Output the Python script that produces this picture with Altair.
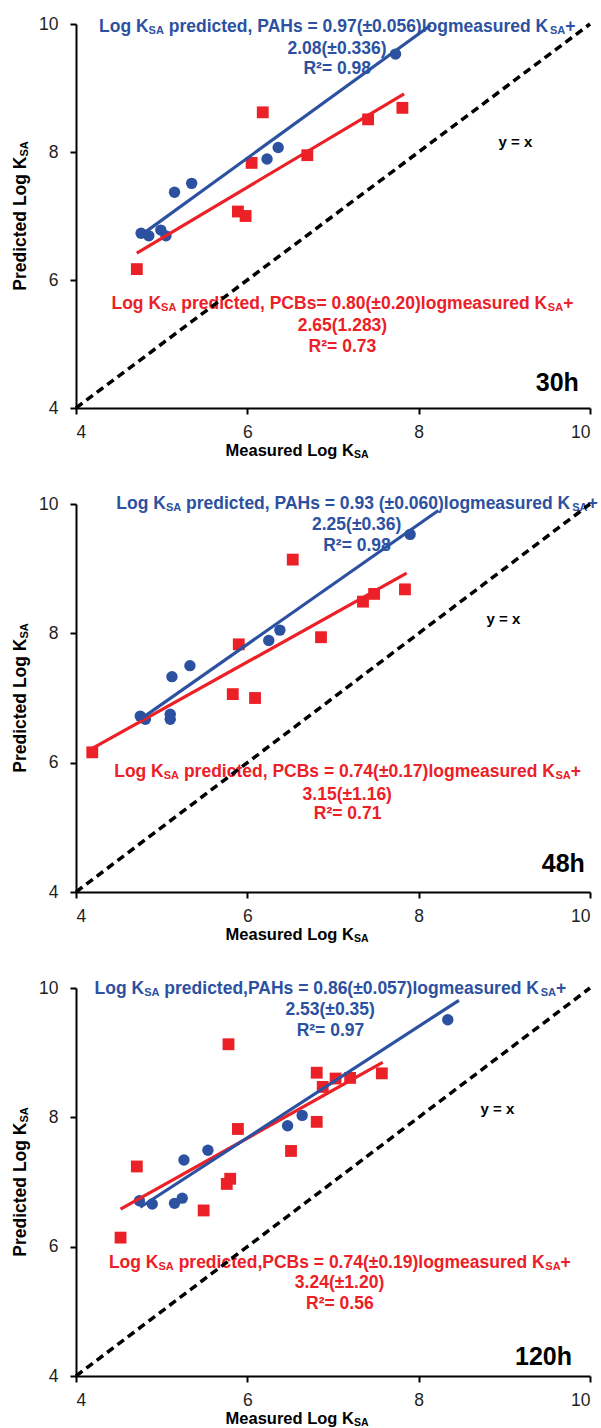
import altair as alt
import pandas as pd

BLUE = "#2C51A0"
RED = "#EC2027"
FONT = "Liberation Sans"

TICKS = [4, 6, 8, 10]
DOMAIN = [4, 10]
IDENTITY = [4, 10]

# ---------------- 30 h ----------------
PAH_30_X = [4.76, 4.85, 4.99, 5.05, 5.15, 5.35, 6.23, 6.36, 7.73]
PAH_30_Y = [6.73, 6.69, 6.78, 6.69, 7.37, 7.51, 7.89, 8.07, 9.53]
PCB_30_X = [4.71, 5.89, 5.98, 6.05, 6.18, 6.70, 7.41, 7.81]
PCB_30_Y = [6.17, 7.07, 7.00, 7.83, 8.62, 7.95, 8.51, 8.69]
FIT_PAH_30_X = [4.78, 8.14]
FIT_PAH_30_Y = [6.72, 9.98]
FIT_PCB_30_X = [4.71, 7.83]
FIT_PCB_30_Y = [6.42, 8.91]

# ---------------- 48 h ----------------
PAH_48_X = [4.75, 4.81, 5.10, 5.10, 5.12, 5.33, 6.25, 6.38, 7.90]
PAH_48_Y = [6.72, 6.67, 6.75, 6.67, 7.33, 7.50, 7.89, 8.05, 9.53]
PCB_48_X = [4.19, 5.83, 6.09, 5.90, 6.53, 6.86, 7.35, 7.48, 7.84]
PCB_48_Y = [6.16, 7.06, 7.00, 7.83, 9.14, 7.94, 8.49, 8.61, 8.68]
FIT_PAH_48_X = [4.75, 8.23]
FIT_PAH_48_Y = [6.67, 9.90]
FIT_PCB_48_X = [4.19, 7.86]
FIT_PCB_48_Y = [6.22, 8.93]

# ---------------- 120 h ----------------
PAH_120_X = [4.74, 4.89, 5.15, 5.24, 5.26, 5.54, 6.47, 6.64, 8.34]
PAH_120_Y = [6.71, 6.66, 6.67, 6.75, 7.34, 7.49, 7.87, 8.03, 9.51]
PCB_120_X = [4.52, 4.71, 5.49, 5.76, 5.80, 5.78, 5.89, 6.51, 6.81, 6.81, 6.88, 7.03, 7.20, 7.57]
PCB_120_Y = [6.14, 7.24, 6.56, 6.97, 7.05, 9.13, 7.82, 7.48, 7.93, 8.69, 8.47, 8.60, 8.61, 8.68]
FIT_PAH_120_X = [4.75, 8.47]
FIT_PAH_120_Y = [6.61, 9.81]
FIT_PCB_120_X = [4.52, 7.58]
FIT_PCB_120_Y = [6.58, 8.85]

# ---------------- texts ----------------
BLUE_EQ = [
    " predicted, PAHs = 0.97(\u00b10.056)logmeasured K",
    " predicted, PAHs = 0.93 (\u00b10.060)logmeasured K",
    " predicted,PAHs = 0.86(\u00b10.057)logmeasured K",
]
BLUE_L2 = ["2.08(\u00b10.336)", "2.25(\u00b10.36)", "2.53(\u00b10.35)"]
BLUE_L3 = ["R\u00b2= 0.98", "R\u00b2= 0.98", "R\u00b2= 0.97"]
RED_EQ = [
    " predicted, PCBs= 0.80(\u00b10.20)logmeasured K",
    " predicted, PCBs = 0.74(\u00b10.17)logmeasured K",
    " predicted,PCBs = 0.74(\u00b10.19)logmeasured K",
]
RED_L2 = ["2.65(1.283)", "3.15(\u00b11.16)", "3.24(\u00b11.20)"]
RED_L3 = ["R\u00b2= 0.73", "R\u00b2= 0.71", "R\u00b2= 0.56"]
TIME_LABELS = ["30h", "48h", "120h"]

# text anchor positions (data units)
BLUE_TXT_X = [7.05, 7.28, 6.97]
BLUE_TXT_Y = [[9.97, 9.63, 9.31], [10.02, 9.69, 9.37], [10.0, 9.68, 9.35]]
RED_TXT_X = [7.11, 7.17, 7.08]
RED_TXT_Y = [[5.65, 5.30, 4.98], [5.87, 5.52, 5.22], [5.77, 5.45, 5.14]]
YX_POS = [(9.13, 8.16), (8.99, 8.23), (8.92, 8.13)]
TIME_POS = [(9.87, 4.39), (9.94, 4.43), (9.79, 4.30)]

HEIGHTS = [384, 388, 388]
WIDTH = 514

BOLD_W = {' ': 278, '(': 333, ')': 333, '+': 584, ',': 278, '.': 278, '=': 584,
          '\u00b1': 584, '\u00b2': 333,
          'A': 722, 'B': 722, 'C': 722, 'H': 722, 'K': 722, 'L': 611, 'M': 833,
          'P': 667, 'R': 722, 'S': 667,
          'a': 556, 'c': 556, 'd': 611, 'e': 556, 'g': 611, 'h': 611, 'i': 278,
          'l': 278, 'm': 889, 'o': 611, 'p': 611, 'r': 389, 's': 556, 't': 333,
          'u': 611, 'x': 556, 'y': 556}
for _d in "0123456789":
    BOLD_W[_d] = 556


def text_width(s, size):
    return sum(BOLD_W.get(c, 556) for c in s) * size / 1000.0


XS = alt.Scale(domain=DOMAIN, nice=False, zero=False)
YS = alt.Scale(domain=DOMAIN, nice=False, zero=False)
XAX = alt.Axis(values=TICKS, title=None, grid=False, labelPadding=9, format="d")
YAX = alt.Axis(values=TICKS, title=None, grid=False, labelPadding=12, format="d")


def enc_xy(ch):
    return ch.encode(x=alt.X("x:Q", scale=XS, axis=XAX),
                     y=alt.Y("y:Q", scale=YS, axis=YAX))


def rich(anchor, segs, size, sub_size, color, angle=0, pixel=False):
    widths = [text_width(t, sub_size if sub else size) for t, sub in segs]
    cur = -sum(widths) / 2.0
    base_dy = 0.358 * size
    layers = []
    for (t, sub), w in zip(segs, widths):
        fs = sub_size if sub else size
        stripped = t.lstrip(" ")
        lead = text_width(t[:len(t) - len(stripped)], fs)
        m = alt.Chart(pd.DataFrame({"x": [anchor[0]], "y": [anchor[1]], "t": [stripped]})).mark_text(
            align="left", baseline="alphabetic", dx=cur + lead,
            dy=base_dy + (1.9 if sub else 0.0),
            font=FONT, fontWeight="bold", fontSize=fs,
            color=color, angle=angle)
        if pixel:
            m = m.encode(x=alt.value(anchor[0]), y=alt.value(anchor[1]), text="t:N")
        else:
            m = enc_xy(m).encode(text="t:N")
        layers.append(m)
        cur += w
    return layers


def panel(i, pah_x, pah_y, pcb_x, pcb_y, fpah_x, fpah_y, fpcb_x, fpcb_y):
    h = HEIGHTS[i]
    layers = []
    bx = BLUE_TXT_X[i]
    by = BLUE_TXT_Y[i]
    layers += rich((bx, by[0]), [("Log K", False), ("SA", True), (BLUE_EQ[i], False),
                                 ("SA", True), ("+", False)], 17.5, 11, BLUE)
    layers += rich((bx, by[1]), [(BLUE_L2[i], False)], 17.5, 11, BLUE)
    layers += rich((bx, by[2]), [(BLUE_L3[i], False)], 17.5, 11, BLUE)
    rx = RED_TXT_X[i]
    ry = RED_TXT_Y[i]
    layers += rich((rx, ry[0]), [("Log K", False), ("SA", True), (RED_EQ[i], False),
                                 ("SA", True), ("+", False)], 17.5, 11, RED)
    layers += rich((rx, ry[1]), [(RED_L2[i], False)], 17.5, 11, RED)
    layers += rich((rx, ry[2]), [(RED_L3[i], False)], 17.5, 11, RED)
    layers += rich(YX_POS[i], [("y = x", False)], 15, 10, "black")
    tdf = pd.DataFrame({"x": [TIME_POS[i][0]], "y": [TIME_POS[i][1]], "t": [TIME_LABELS[i]]})
    layers.append(enc_xy(alt.Chart(tdf).mark_text(
        align="right", baseline="middle", font=FONT, fontWeight="bold",
        fontSize=25, color="black")).encode(text="t:N"))
    layers += rich((221, h + 42), [("Measured Log K", False), ("SA", True)], 16.5, 10.5,
                   "black", pixel=True)
    layers += rich((-56, h / 2.0), [("Predicted Log K", False), ("SA", True)], 17.5, 11,
                   "black", angle=270, pixel=True)
    layers.append(enc_xy(alt.Chart(pd.DataFrame({"x": IDENTITY, "y": IDENTITY})).mark_line(
        color="black", strokeWidth=3.5, strokeDash=[8, 5])))
    layers.append(enc_xy(alt.Chart(pd.DataFrame({"x": pcb_x, "y": pcb_y})).mark_point(
        shape="square", filled=True, size=140, color=RED, opacity=1)))
    layers.append(enc_xy(alt.Chart(pd.DataFrame({"x": pah_x, "y": pah_y})).mark_circle(
        size=130, color=BLUE, opacity=1)))
    layers.append(enc_xy(alt.Chart(pd.DataFrame({"x": fpcb_x, "y": fpcb_y})).mark_line(
        color=RED, strokeWidth=3.2)))
    layers.append(enc_xy(alt.Chart(pd.DataFrame({"x": fpah_x, "y": fpah_y})).mark_line(
        color=BLUE, strokeWidth=3.2)))
    return alt.layer(*layers).properties(width=WIDTH, height=h)


p1 = panel(0, PAH_30_X, PAH_30_Y, PCB_30_X, PCB_30_Y,
           FIT_PAH_30_X, FIT_PAH_30_Y, FIT_PCB_30_X, FIT_PCB_30_Y)
p2 = panel(1, PAH_48_X, PAH_48_Y, PCB_48_X, PCB_48_Y,
           FIT_PAH_48_X, FIT_PAH_48_Y, FIT_PCB_48_X, FIT_PCB_48_Y)
p3 = panel(2, PAH_120_X, PAH_120_Y, PCB_120_X, PCB_120_Y,
           FIT_PAH_120_X, FIT_PAH_120_Y, FIT_PCB_120_X, FIT_PCB_120_Y)

chart = alt.vconcat(p1, p2, p3, spacing=96, bounds="flush").properties(
    padding={"left": 12, "top": 15, "right": 0, "bottom": 0},
    background="white",
).configure_view(stroke=None).configure_axis(
    domainColor="black", domainWidth=2, tickColor="black", tickWidth=2, tickSize=6,
    labelFont=FONT, labelFontSize=17.5, labelColor="#1f1f1f",
)

chart.save("out.html", embed_options={"renderer": "svg", "actions": False})
